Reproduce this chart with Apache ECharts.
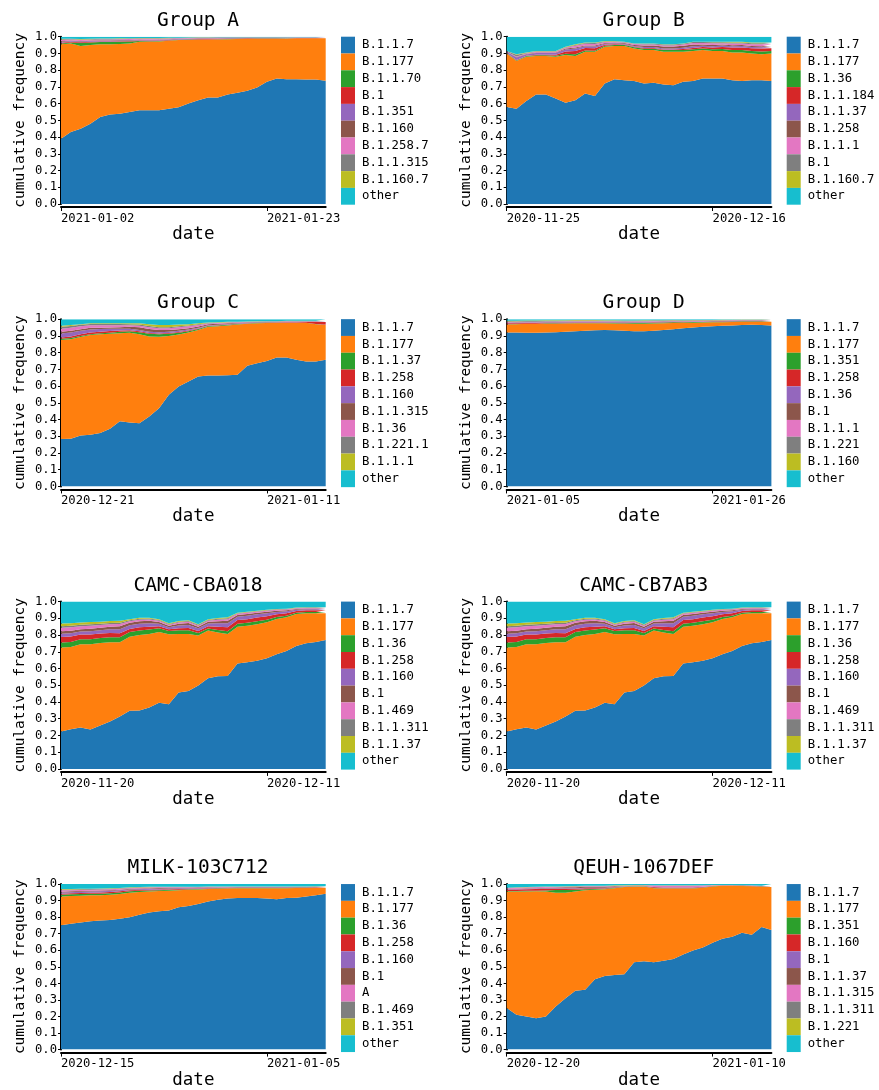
<!DOCTYPE html>
<html>
<head>
<meta charset="utf-8">
<title>cumulative frequency by lineage</title>
<script src="https://cdn.jsdelivr.net/npm/echarts@6/dist/echarts.min.js"></script>
<style>
  html, body { margin: 0; padding: 0; background: #fff; }
  #chart { width: 879px; height: 1090px; }
</style>
</head>
<body>
<div id="chart"></div>
<script>
// ---- data (28 daily points per panel) ----
const panelTitles = ['Group A', 'Group B', 'Group C', 'Group D',
  'CAMC-CBA018', 'CAMC-CB7AB3', 'MILK-103C712', 'QEUH-1067DEF'];
const panelStartDates = ['2021-01-02', '2020-11-25', '2020-12-21', '2021-01-05',
  '2020-11-20', '2020-11-20', '2020-12-15', '2020-12-20'];

const groupA_lineages = ['B.1.1.7', 'B.1.177', 'B.1.1.70', 'B.1', 'B.1.351', 'B.1.160', 'B.1.258.7', 'B.1.1.315', 'B.1.160.7', 'other'];
const groupA_values = [
  [0.39,0.43,0.45,0.48,0.52,0.535,0.54,0.55,0.56,0.56,0.56,0.57,0.578,0.60,0.62,0.636,0.636,0.655,0.665,0.677,0.697,0.73,0.75,0.745,0.745,0.744,0.744,0.737],
  [0.565,0.53,0.495,0.47,0.435,0.42,0.417,0.41,0.41,0.41,0.412,0.406,0.402,0.381,0.362,0.347,0.348,0.33,0.321,0.31,0.291,0.258,0.238,0.244,0.245,0.246,0.246,0.253],
  [0.004,0.006,0.018,0.016,0.014,0.014,0.013,0.012,0.004,0.003,0.003,0.002,0.002,0.002,0.002,0.001,0.001,0.001,0.001,0.001,0.001,0.001,0.001,0.001,0.001,0.001,0.001,0.001],
  [0.005,0.004,0.004,0.004,0.003,0.003,0.003,0.003,0.003,0.003,0.002,0.002,0.002,0.002,0.002,0.002,0.002,0.002,0.002,0.002,0.001,0.001,0.001,0.001,0.001,0.001,0.001,0.001],
  [0.005,0.004,0.004,0.004,0.004,0.004,0.004,0.003,0.003,0.003,0.003,0.003,0.002,0.002,0.002,0.002,0.002,0.002,0.002,0.001,0.001,0.001,0.001,0.001,0.001,0.001,0.001,0.001],
  [0.004,0.003,0.003,0.003,0.003,0.003,0.003,0.003,0.003,0.003,0.003,0.002,0.002,0.002,0.002,0.002,0.002,0.002,0.001,0.001,0.001,0.001,0.001,0.001,0.001,0.001,0.001,0.001],
  [0.008,0.006,0.006,0.005,0.005,0.005,0.005,0.005,0.004,0.005,0.004,0.004,0.003,0.003,0.003,0.003,0.003,0.002,0.002,0.002,0.002,0.002,0.002,0.002,0.001,0.001,0.001,0.001],
  [0.004,0.003,0.004,0.003,0.003,0.003,0.003,0.003,0.003,0.003,0.003,0.002,0.002,0.002,0.002,0.002,0.002,0.002,0.002,0.002,0.002,0.002,0.002,0.001,0.001,0.001,0.001,0.001],
  [0.002,0.002,0.002,0.002,0.002,0.002,0.002,0.002,0.002,0.002,0.002,0.002,0.001,0.001,0.001,0.001,0.001,0.001,0.001,0.001,0.001,0.001,0.001,0.001,0.001,0.001,0.001,0.001],
  [0.013,0.012,0.014,0.013,0.011,0.011,0.010,0.009,0.008,0.008,0.008,0.007,0.006,0.005,0.004,0.004,0.003,0.003,0.003,0.003,0.003,0.003,0.003,0.003,0.003,0.003,0.003,0.003]
];

const groupB_lineages = ['B.1.1.7', 'B.1.177', 'B.1.36', 'B.1.1.184', 'B.1.1.37', 'B.1.258', 'B.1.1.1', 'B.1', 'B.1.160.7', 'other'];
const groupB_values = [
  [0.58,0.57,0.615,0.655,0.655,0.63,0.605,0.62,0.66,0.645,0.72,0.745,0.74,0.735,0.72,0.725,0.715,0.71,0.73,0.735,0.75,0.75,0.75,0.74,0.735,0.74,0.74,0.735],
  [0.32,0.285,0.265,0.23,0.23,0.25,0.285,0.265,0.25,0.265,0.22,0.20,0.205,0.195,0.20,0.195,0.195,0.20,0.18,0.18,0.17,0.165,0.165,0.165,0.17,0.16,0.155,0.165],
  [0.002,0.003,0.004,0.004,0.004,0.006,0.008,0.01,0.008,0.006,0.006,0.006,0.005,0.007,0.008,0.008,0.01,0.01,0.01,0.01,0.01,0.01,0.012,0.015,0.015,0.015,0.016,0.015],
  [0.001,0.002,0.002,0.003,0.003,0.006,0.014,0.02,0.015,0.015,0.006,0.004,0.003,0.003,0.004,0.004,0.004,0.004,0.006,0.008,0.008,0.01,0.012,0.015,0.016,0.016,0.018,0.016],
  [0.006,0.015,0.008,0.01,0.01,0.01,0.012,0.015,0.01,0.01,0.006,0.006,0.005,0.005,0.006,0.006,0.006,0.006,0.008,0.01,0.008,0.008,0.008,0.008,0.008,0.008,0.008,0.008],
  [0.001,0.003,0.003,0.004,0.004,0.004,0.005,0.006,0.005,0.006,0.004,0.004,0.004,0.006,0.01,0.01,0.012,0.012,0.012,0.01,0.008,0.008,0.006,0.006,0.006,0.006,0.006,0.006],
  [0.001,0.004,0.003,0.004,0.004,0.004,0.005,0.01,0.01,0.01,0.006,0.005,0.004,0.005,0.006,0.006,0.006,0.006,0.007,0.01,0.009,0.01,0.008,0.01,0.01,0.01,0.012,0.01],
  [0.003,0.01,0.003,0.003,0.003,0.003,0.003,0.004,0.004,0.005,0.004,0.003,0.002,0.002,0.004,0.004,0.005,0.005,0.005,0.005,0.005,0.006,0.006,0.007,0.006,0.006,0.006,0.006],
  [0.001,0.003,0.002,0.002,0.002,0.002,0.003,0.005,0.003,0.003,0.003,0.002,0.002,0.002,0.002,0.002,0.002,0.002,0.002,0.002,0.002,0.003,0.003,0.004,0.004,0.004,0.004,0.004],
  [0.085,0.105,0.095,0.085,0.085,0.085,0.06,0.045,0.035,0.035,0.025,0.025,0.03,0.04,0.04,0.04,0.045,0.045,0.04,0.03,0.03,0.03,0.03,0.03,0.03,0.035,0.035,0.035]
];

const groupC_lineages = ['B.1.1.7', 'B.1.177', 'B.1.1.37', 'B.1.258', 'B.1.160', 'B.1.1.315', 'B.1.36', 'B.1.221.1', 'B.1.1.1', 'other'];
const groupC_values = [
  [0.283,0.285,0.305,0.309,0.319,0.345,0.39,0.382,0.378,0.418,0.468,0.548,0.598,0.627,0.657,0.663,0.663,0.665,0.667,0.721,0.737,0.75,0.771,0.771,0.757,0.747,0.747,0.757],
  [0.592,0.595,0.588,0.596,0.591,0.568,0.526,0.536,0.532,0.479,0.427,0.352,0.31,0.293,0.278,0.292,0.295,0.297,0.301,0.251,0.239,0.227,0.207,0.207,0.221,0.231,0.223,0.208],
  [0.008,0.008,0.006,0.005,0.005,0.006,0.008,0.01,0.012,0.015,0.014,0.012,0.01,0.008,0.006,0.004,0.004,0.004,0.003,0.002,0.002,0.002,0.001,0.001,0.001,0.001,0.001,0.001],
  [0.007,0.008,0.01,0.01,0.01,0.01,0.008,0.006,0.005,0.005,0.005,0.005,0.005,0.004,0.003,0.002,0.002,0.002,0.002,0.002,0.001,0.001,0.001,0.002,0.003,0.004,0.012,0.017],
  [0.024,0.024,0.021,0.018,0.016,0.013,0.011,0.009,0.008,0.008,0.008,0.007,0.007,0.006,0.005,0.003,0.003,0.003,0.002,0.002,0.002,0.002,0.002,0.002,0.002,0.002,0.002,0.002],
  [0.011,0.011,0.01,0.01,0.008,0.008,0.009,0.012,0.016,0.016,0.013,0.011,0.01,0.008,0.007,0.005,0.005,0.005,0.004,0.003,0.002,0.002,0.002,0.002,0.002,0.001,0.001,0.001],
  [0.018,0.018,0.017,0.015,0.014,0.013,0.012,0.009,0.01,0.011,0.011,0.011,0.011,0.011,0.009,0.005,0.005,0.004,0.003,0.003,0.002,0.002,0.002,0.002,0.002,0.002,0.002,0.002],
  [0.011,0.01,0.009,0.008,0.008,0.008,0.007,0.006,0.007,0.007,0.006,0.006,0.006,0.005,0.004,0.003,0.002,0.002,0.002,0.001,0.001,0.001,0.001,0.002,0.001,0.001,0.001,0.001],
  [0.006,0.006,0.004,0.004,0.004,0.004,0.004,0.005,0.007,0.011,0.013,0.013,0.011,0.008,0.006,0.003,0.003,0.003,0.001,0.001,0.001,0.001,0.001,0.001,0.001,0.001,0.001,0.001],
  [0.04,0.035,0.03,0.025,0.025,0.025,0.025,0.025,0.025,0.03,0.035,0.035,0.032,0.03,0.025,0.02,0.018,0.015,0.015,0.014,0.013,0.012,0.012,0.01,0.01,0.01,0.01,0.01]
];

const groupD_lineages = ['B.1.1.7', 'B.1.177', 'B.1.351', 'B.1.258', 'B.1.36', 'B.1', 'B.1.1.1', 'B.1.221', 'B.1.160', 'other'];
const groupD_values = [
  [0.92,0.92,0.918,0.918,0.92,0.922,0.925,0.928,0.93,0.933,0.935,0.933,0.93,0.928,0.928,0.93,0.935,0.94,0.945,0.95,0.955,0.958,0.96,0.962,0.965,0.966,0.965,0.962],
  [0.048,0.05,0.054,0.054,0.053,0.051,0.049,0.047,0.045,0.042,0.04,0.041,0.042,0.044,0.045,0.044,0.04,0.037,0.033,0.029,0.025,0.023,0.022,0.021,0.019,0.019,0.02,0.023],
  [0.001,0.001,0.001,0.001,0.002,0.002,0.002,0.002,0.002,0.002,0.002,0.003,0.004,0.005,0.005,0.005,0.005,0.004,0.004,0.004,0.003,0.003,0.003,0.003,0.003,0.002,0.002,0.002],
  [0.006,0.005,0.004,0.004,0.003,0.003,0.003,0.003,0.003,0.003,0.002,0.002,0.002,0.002,0.002,0.002,0.002,0.002,0.002,0.002,0.002,0.002,0.002,0.002,0.002,0.002,0.002,0.002],
  [0.003,0.003,0.003,0.003,0.003,0.003,0.003,0.003,0.003,0.003,0.003,0.003,0.003,0.003,0.003,0.003,0.003,0.003,0.002,0.002,0.002,0.002,0.002,0.002,0.002,0.002,0.002,0.002],
  [0.002,0.002,0.002,0.002,0.002,0.002,0.002,0.002,0.002,0.002,0.002,0.002,0.002,0.002,0.002,0.002,0.002,0.002,0.001,0.001,0.001,0.001,0.001,0.001,0.001,0.001,0.001,0.001],
  [0.003,0.003,0.003,0.003,0.003,0.003,0.003,0.003,0.003,0.003,0.003,0.003,0.003,0.003,0.003,0.003,0.002,0.002,0.002,0.002,0.002,0.002,0.002,0.002,0.002,0.002,0.002,0.002],
  [0.004,0.004,0.004,0.004,0.004,0.004,0.004,0.004,0.004,0.004,0.004,0.004,0.004,0.003,0.003,0.003,0.003,0.003,0.003,0.003,0.003,0.002,0.002,0.002,0.002,0.002,0.002,0.002],
  [0.003,0.003,0.003,0.003,0.003,0.003,0.003,0.003,0.003,0.003,0.003,0.002,0.002,0.002,0.002,0.002,0.002,0.002,0.002,0.002,0.002,0.002,0.002,0.002,0.002,0.002,0.002,0.002],
  [0.010,0.009,0.008,0.008,0.007,0.007,0.006,0.005,0.005,0.005,0.006,0.007,0.008,0.008,0.007,0.006,0.006,0.005,0.006,0.005,0.005,0.005,0.004,0.003,0.002,0.002,0.002,0.002]
];

// the two CAMC panels show the same numbers
const camc_lineages = ['B.1.1.7', 'B.1.177', 'B.1.36', 'B.1.258', 'B.1.160', 'B.1', 'B.1.469', 'B.1.1.311', 'B.1.1.37', 'other'];
const camc_values = [
  [0.223,0.237,0.247,0.235,0.259,0.283,0.313,0.347,0.349,0.367,0.396,0.386,0.456,0.466,0.498,0.542,0.554,0.556,0.63,0.637,0.647,0.661,0.685,0.705,0.735,0.751,0.759,0.771],
  [0.502,0.492,0.498,0.51,0.494,0.474,0.444,0.443,0.451,0.44,0.423,0.419,0.351,0.341,0.299,0.285,0.261,0.251,0.22,0.218,0.218,0.215,0.211,0.201,0.191,0.179,0.171,0.159],
  [0.030,0.030,0.030,0.030,0.030,0.030,0.030,0.028,0.028,0.026,0.022,0.020,0.022,0.022,0.015,0.012,0.015,0.016,0.018,0.018,0.018,0.016,0.012,0.010,0.008,0.008,0.008,0.008],
  [0.033,0.032,0.028,0.028,0.026,0.025,0.024,0.018,0.018,0.016,0.012,0.010,0.012,0.013,0.012,0.014,0.020,0.024,0.022,0.022,0.022,0.020,0.016,0.014,0.010,0.010,0.010,0.010],
  [0.020,0.020,0.018,0.020,0.020,0.022,0.024,0.022,0.022,0.022,0.015,0.012,0.016,0.018,0.016,0.016,0.020,0.024,0.020,0.020,0.019,0.018,0.014,0.012,0.008,0.007,0.007,0.007],
  [0.015,0.015,0.014,0.015,0.015,0.015,0.017,0.015,0.015,0.014,0.010,0.009,0.011,0.012,0.010,0.010,0.013,0.015,0.010,0.011,0.009,0.009,0.007,0.006,0.004,0.004,0.004,0.004],
  [0.020,0.020,0.018,0.018,0.016,0.015,0.014,0.009,0.009,0.008,0.007,0.006,0.007,0.007,0.006,0.006,0.008,0.009,0.007,0.007,0.007,0.007,0.006,0.005,0.004,0.003,0.003,0.003],
  [0.010,0.010,0.009,0.009,0.008,0.008,0.008,0.006,0.006,0.006,0.005,0.004,0.005,0.005,0.005,0.005,0.006,0.006,0.004,0.004,0.003,0.003,0.003,0.003,0.002,0.002,0.002,0.002],
  [0.016,0.015,0.013,0.013,0.012,0.012,0.012,0.006,0.006,0.005,0.004,0.004,0.004,0.004,0.004,0.004,0.005,0.005,0.003,0.003,0.003,0.003,0.002,0.002,0.002,0.002,0.002,0.002],
  [0.131,0.129,0.125,0.122,0.12,0.116,0.114,0.106,0.096,0.096,0.106,0.13,0.116,0.112,0.135,0.106,0.098,0.094,0.066,0.06,0.054,0.048,0.044,0.042,0.036,0.034,0.034,0.034]
];

const milk_lineages = ['B.1.1.7', 'B.1.177', 'B.1.36', 'B.1.258', 'B.1.160', 'B.1', 'A', 'B.1.469', 'B.1.351', 'other'];
const milk_values = [
  [0.751,0.76,0.768,0.775,0.78,0.783,0.79,0.80,0.815,0.828,0.835,0.84,0.86,0.868,0.88,0.895,0.905,0.912,0.915,0.915,0.915,0.912,0.908,0.915,0.918,0.925,0.932,0.942],
  [0.174,0.168,0.162,0.157,0.152,0.152,0.15,0.148,0.137,0.127,0.123,0.12,0.102,0.097,0.087,0.075,0.067,0.061,0.059,0.06,0.06,0.063,0.067,0.06,0.058,0.051,0.045,0.036],
  [0.010,0.010,0.010,0.010,0.010,0.010,0.009,0.008,0.007,0.006,0.005,0.005,0.004,0.003,0.003,0.002,0.002,0.002,0.002,0.001,0.001,0.001,0.001,0.001,0.001,0.001,0.001,0.001],
  [0.006,0.006,0.006,0.006,0.007,0.007,0.007,0.006,0.005,0.005,0.004,0.004,0.004,0.003,0.003,0.003,0.002,0.002,0.002,0.002,0.002,0.002,0.002,0.002,0.002,0.002,0.002,0.001],
  [0.008,0.007,0.007,0.007,0.007,0.006,0.006,0.005,0.005,0.005,0.005,0.004,0.004,0.004,0.003,0.003,0.003,0.002,0.002,0.002,0.002,0.002,0.002,0.002,0.002,0.002,0.002,0.002],
  [0.005,0.005,0.005,0.005,0.005,0.005,0.004,0.004,0.004,0.004,0.004,0.004,0.003,0.003,0.003,0.003,0.002,0.002,0.002,0.002,0.002,0.002,0.002,0.002,0.001,0.001,0.001,0.001],
  [0.008,0.007,0.006,0.006,0.006,0.005,0.005,0.004,0.004,0.004,0.004,0.003,0.003,0.003,0.002,0.002,0.002,0.002,0.001,0.001,0.001,0.001,0.001,0.001,0.001,0.001,0.001,0.001],
  [0.005,0.004,0.004,0.004,0.004,0.004,0.003,0.003,0.003,0.002,0.002,0.002,0.002,0.002,0.002,0.001,0.001,0.001,0.001,0.001,0.001,0.001,0.001,0.001,0.001,0.001,0.001,0.001],
  [0.003,0.003,0.003,0.002,0.002,0.002,0.002,0.002,0.002,0.002,0.002,0.002,0.002,0.001,0.001,0.001,0.001,0.001,0.001,0.001,0.001,0.001,0.001,0.001,0.001,0.001,0.001,0.001],
  [0.03,0.03,0.029,0.028,0.027,0.026,0.024,0.02,0.018,0.017,0.016,0.016,0.016,0.016,0.016,0.015,0.015,0.015,0.015,0.015,0.015,0.015,0.015,0.015,0.015,0.015,0.014,0.014]
];

const qeuh_lineages = ['B.1.1.7', 'B.1.177', 'B.1.351', 'B.1.160', 'B.1', 'B.1.1.37', 'B.1.1.315', 'B.1.1.311', 'B.1.221', 'other'];
const qeuh_values = [
  [0.252,0.21,0.2,0.19,0.2,0.26,0.31,0.355,0.362,0.425,0.445,0.45,0.455,0.527,0.533,0.527,0.537,0.547,0.575,0.598,0.616,0.646,0.67,0.682,0.706,0.694,0.74,0.722],
  [0.703,0.745,0.755,0.766,0.755,0.688,0.638,0.60,0.60,0.54,0.523,0.525,0.527,0.458,0.452,0.448,0.436,0.426,0.398,0.375,0.362,0.339,0.32,0.308,0.282,0.292,0.244,0.26],
  [0.003,0.003,0.004,0.004,0.006,0.016,0.016,0.010,0.007,0.005,0.004,0.003,0.001,0.001,0.001,0.001,0.001,0.001,0.001,0.001,0.001,0.002,0.001,0.001,0.001,0.001,0.001,0.001],
  [0.008,0.009,0.010,0.010,0.010,0.008,0.007,0.006,0.005,0.004,0.003,0.002,0.001,0.001,0.001,0.004,0.004,0.004,0.004,0.004,0.003,0.001,0.001,0.001,0.001,0.001,0.001,0.001],
  [0.003,0.003,0.003,0.003,0.003,0.003,0.003,0.003,0.003,0.003,0.003,0.002,0.001,0.001,0.001,0.001,0.001,0.001,0.001,0.001,0.001,0.001,0.001,0.001,0.001,0.001,0.001,0.001],
  [0.002,0.002,0.002,0.002,0.003,0.004,0.006,0.007,0.006,0.006,0.005,0.004,0.002,0.001,0.001,0.001,0.001,0.001,0.001,0.001,0.001,0.001,0.000,0.000,0.001,0.001,0.001,0.001],
  [0.004,0.005,0.005,0.005,0.005,0.003,0.003,0.003,0.003,0.003,0.003,0.002,0.002,0.002,0.002,0.009,0.010,0.010,0.010,0.010,0.007,0.002,0.001,0.001,0.001,0.001,0.001,0.001],
  [0.002,0.002,0.002,0.002,0.002,0.002,0.002,0.002,0.002,0.002,0.002,0.001,0.001,0.001,0.001,0.001,0.001,0.001,0.001,0.001,0.001,0.001,0.001,0.001,0.001,0.001,0.001,0.001],
  [0.001,0.001,0.001,0.001,0.001,0.001,0.001,0.002,0.002,0.002,0.002,0.003,0.003,0.003,0.003,0.001,0.001,0.001,0.001,0.001,0.001,0.001,0.000,0.000,0.000,0.000,0.000,0.000],
  [0.022,0.02,0.018,0.017,0.015,0.015,0.014,0.012,0.01,0.01,0.01,0.008,0.007,0.005,0.005,0.007,0.008,0.008,0.008,0.008,0.007,0.006,0.005,0.005,0.006,0.008,0.01,0.012]
];

const yTicks = [0, 1, 0.1]; // min, max, step

// ---- styling ----
const FONT = 'DejaVu Sans Mono';
const tab10 = ['#1f77b4', '#ff7f0e', '#2ca02c', '#d62728', '#9467bd',
  '#8c564b', '#e377c2', '#7f7f7f', '#bcbd22', '#17becf'];

// consecutive day labels for the category axis
function dayLabels(start, n) {
  const t0 = Date.parse(start + 'T00:00:00Z');
  const out = [];
  for (let i = 0; i < n; i++) {
    out.push(new Date(t0 + i * 86400000).toISOString().slice(0, 10));
  }
  return out;
}

const panels = [
  { lineages: groupA_lineages, values: groupA_values },
  { lineages: groupB_lineages, values: groupB_values },
  { lineages: groupC_lineages, values: groupC_values },
  { lineages: groupD_lineages, values: groupD_values },
  { lineages: camc_lineages, values: camc_values },
  { lineages: camc_lineages, values: camc_values },
  { lineages: milk_lineages, values: milk_values },
  { lineages: qeuh_lineages, values: qeuh_values }
];

const option = {
  animation: false,
  backgroundColor: '#fff',
  title: [], legend: [], grid: [], xAxis: [], yAxis: [], series: []
};

panels.forEach((p, i) => {
  const col = i % 2;
  const row = Math.floor(i / 2);
  const left = col ? 506.7 : 61;
  const top = 36.7 + row * 282.45;

  option.grid.push({ left: left, top: top, width: 264.7, height: 167.3 });

  option.title.push({
    text: panelTitles[i],
    left: left + 137,
    top: top - 16,
    padding: 0,
    textAlign: 'center',
    textVerticalAlign: 'middle',
    textStyle: { fontFamily: FONT, fontSize: 19.5, fontWeight: 'normal', color: '#000' }
  });

  option.xAxis.push({
    type: 'category',
    gridIndex: i,
    data: dayLabels(panelStartDates[i], p.values[0].length),
    boundaryGap: false,
    offset: 3,
    name: 'date',
    nameLocation: 'middle',
    nameGap: 16.5,
    nameTextStyle: { fontFamily: FONT, fontSize: 17.5, color: '#000' },
    axisLine: { onZero: false, lineStyle: { color: '#000', width: 2 } },
    axisTick: { interval: 20, length: 4, lineStyle: { color: '#000', width: 1 } },
    axisLabel: { interval: 20, align: 'left', margin: 5.5, color: '#000', fontFamily: FONT, fontSize: 12.2 },
    splitLine: { show: false }
  });

  option.yAxis.push({
    type: 'value',
    gridIndex: i,
    min: yTicks[0],
    max: yTicks[1],
    interval: yTicks[2],
    name: 'cumulative frequency',
    nameLocation: 'middle',
    nameGap: 33,
    nameTextStyle: { fontFamily: FONT, fontSize: 14.5, color: '#000' },
    axisLine: { show: true, lineStyle: { color: '#000', width: 2 } },
    axisTick: { show: true, length: 3, lineStyle: { color: '#000', width: 1 } },
    axisLabel: { margin: 4, color: '#000', fontFamily: FONT, fontSize: 12.2,
      formatter: v => v.toFixed(1) },
    splitLine: { show: false }
  });

  // series names carry the panel index so every legend picks its own colours
  const names = p.lineages.map(l => i + '|' + l);
  option.legend.push({
    data: names,
    orient: 'vertical',
    left: left + 280,
    top: top,
    padding: 0,
    itemWidth: 14,
    itemHeight: 16.8,
    itemGap: 0,
    icon: 'rect',
    selectedMode: false,
    itemStyle: { borderWidth: 0 },
    formatter: n => n.split('|')[1],
    textStyle: { fontFamily: FONT, fontSize: 12.3, color: '#000', padding: [0, 0, 0, 2] }
  });

  p.values.forEach((vals, k) => {
    option.series.push({
      name: names[k],
      type: 'line',
      xAxisIndex: i,
      yAxisIndex: i,
      stack: 'panel' + i,
      data: vals,
      symbol: 'none',
      showSymbol: false,
      silent: true,
      lineStyle: { width: 0 },
      itemStyle: { color: tab10[k] },
      areaStyle: { color: tab10[k], opacity: 1 }
    });
  });
});

const myChart = echarts.init(document.getElementById('chart'));
myChart.setOption(option);
</script>
</body>
</html>
